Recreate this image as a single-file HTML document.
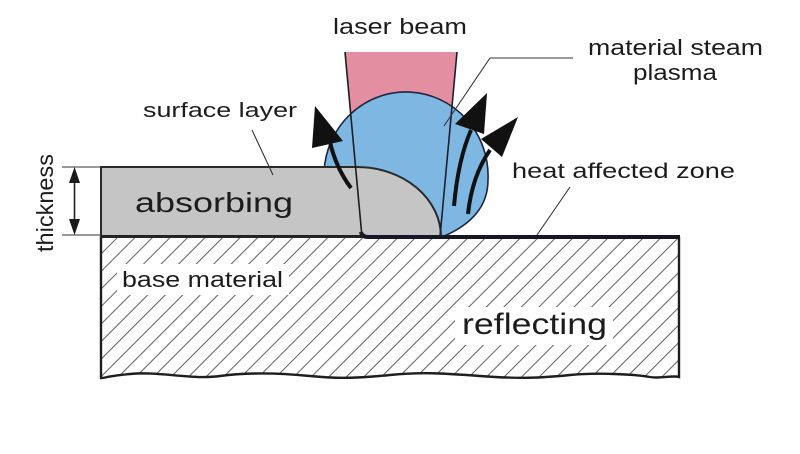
<!DOCTYPE html>
<html>
<head>
<meta charset="utf-8">
<style>
  html, body { margin: 0; padding: 0; background: #ffffff; }
  svg { display: block; }
  text { font-family: "Liberation Sans", Arial, sans-serif; fill: #1c1c1c; }
</style>
</head>
<body>
<svg width="800" height="454" viewBox="0 0 800 454" xmlns="http://www.w3.org/2000/svg">
  <defs>
    <pattern id="hatch" patternUnits="userSpaceOnUse" width="12.4" height="12.4" patternTransform="rotate(45)">
      <line x1="3" y1="0" x2="3" y2="12.4" stroke="#5e5e5e" stroke-width="1"/>
    </pattern>
    <clipPath id="baseClip">
      <path d="M101,237 L679,237 L679,377 C672,375 660,379 650,377 S 600,372 570,375 S 520,379 480,376 S 420,372 390,375 S 340,379 310,376 S 250,372 220,376 S 160,371 130,374 S 108,378 101,378 Z"/>
    </clipPath>
  </defs>

  <!-- base material -->
  <rect x="101" y="237" width="578" height="142" fill="#ffffff"/>
  <rect x="90" y="230" width="600" height="160" fill="url(#hatch)" clip-path="url(#baseClip)"/>
  <!-- white knock-outs behind labels -->
  <rect x="117" y="264" width="172" height="31" fill="#ffffff"/>
  <rect x="455" y="307" width="158" height="38" fill="#ffffff"/>
  <!-- base outline -->
  <path d="M679,237 L679,377 C672,375 660,379 650,377 S 600,372 570,375 S 520,379 480,376 S 420,372 390,375 S 340,379 310,376 S 250,372 220,376 S 160,371 130,374 S 108,378 101,378 L101,236" fill="none" stroke="#1e1e1e" stroke-width="2.4"/>

  <!-- laser beam (pink) -->
  <polygon points="345,52 457,52 440,237 362,237" fill="#e48ea1"/>

  <!-- plasma (blue) -->
  <path d="M442,237 C471,225 488,207 488,180 A82,84 0 0 0 324,172 L324,237 Z" fill="#7eb8e2" stroke="#1e2740" stroke-width="1.6"/>

  <!-- absorbing surface layer (gray) -->
  <path d="M101,167 L357,167 A84,70 0 0 1 441,237 L101,237 Z" fill="#c5c5c5" stroke="#2a2a2a" stroke-width="2"/>

  <!-- base top line and heat affected zone -->
  <line x1="101" y1="236" x2="363" y2="236" stroke="#222" stroke-width="2"/>
  <path d="M361,232 Q362,237 368,237 L680,237" fill="none" stroke="#161626" stroke-width="4"/>

  <!-- beam edges -->
  <line x1="345" y1="52" x2="362" y2="237" stroke="#1e1e1e" stroke-width="1.6"/>
  <line x1="457" y1="52" x2="440" y2="237" stroke="#1e1e2e" stroke-width="1.6"/>

  <!-- thickness dimension -->
  <line x1="62" y1="167" x2="101" y2="167" stroke="#333" stroke-width="1"/>
  <line x1="62" y1="235" x2="101" y2="235" stroke="#333" stroke-width="1"/>
  <line x1="74.5" y1="178" x2="74.5" y2="224" stroke="#222" stroke-width="1.6"/>
  <polygon points="74.5,167 69,183 80,183" fill="#1a1a1a"/>
  <polygon points="74.5,235 69,219 80,219" fill="#1a1a1a"/>

  <!-- leader lines -->
  <line x1="252" y1="130" x2="273" y2="175" stroke="#333" stroke-width="1.1"/>
  <polyline points="573,58 490,58 444,126" fill="none" stroke="#333" stroke-width="1.1"/>
  <line x1="570" y1="187" x2="537" y2="235" stroke="#333" stroke-width="1.1"/>

  <!-- arrows -->
  <path d="M330,142 Q336,168 351,188" fill="none" stroke="#111" stroke-width="4"/>
  <polygon points="315,106 312,148 343,141" fill="#111"/>

  <path d="M471,130 Q458,160 454,206" fill="none" stroke="#111" stroke-width="4"/>
  <polygon points="487,93 455,124 484,134" fill="#111"/>

  <path d="M490,150 Q472,176 468,214" fill="none" stroke="#111" stroke-width="4"/>
  <polygon points="518,117 481,139 502,157" fill="#111"/>

  <!-- labels -->
  <text x="333" y="34" font-size="22" textLength="134" lengthAdjust="spacingAndGlyphs">laser beam</text>
  <text x="588" y="55" font-size="22" textLength="175" lengthAdjust="spacingAndGlyphs">material steam</text>
  <text x="633" y="80" font-size="22" textLength="84" lengthAdjust="spacingAndGlyphs">plasma</text>
  <text x="143" y="117" font-size="20" textLength="154" lengthAdjust="spacingAndGlyphs">surface layer</text>
  <text x="512" y="178" font-size="21" textLength="223" lengthAdjust="spacingAndGlyphs">heat affected zone</text>
  <text x="135" y="212" font-size="28" textLength="158" lengthAdjust="spacingAndGlyphs">absorbing</text>
  <text x="122" y="287" font-size="22" textLength="161" lengthAdjust="spacingAndGlyphs">base material</text>
  <text x="462" y="334" font-size="30" textLength="145" lengthAdjust="spacingAndGlyphs">reflecting</text>
  <text transform="translate(53,252) rotate(-90)" x="0" y="0" font-size="23" textLength="98" lengthAdjust="spacingAndGlyphs">thickness</text>
</svg>
</body>
</html>
